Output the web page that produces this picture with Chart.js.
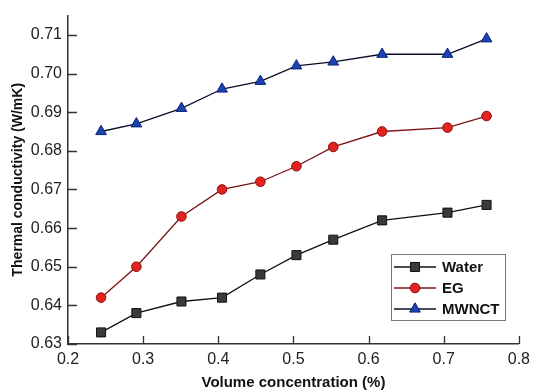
<!DOCTYPE html>
<html>
<head>
<meta charset="utf-8">
<script src="https://cdn.jsdelivr.net/npm/chart.js@4"></script>
<style>
  html, body { margin: 0; padding: 0; background: #fff; }
  #wrap { width: 536px; height: 392px; }
</style>
</head>
<body>
<div id="wrap"><canvas id="chart" width="536" height="392"></canvas></div>
<script>
// 体積濃度 (%)
const concentration = [0.244, 0.291, 0.351, 0.405, 0.456, 0.504, 0.553, 0.618, 0.705, 0.757];
// 熱伝導率 (W/mK)
const water = [0.633, 0.638, 0.641, 0.642, 0.648, 0.653, 0.657, 0.662, 0.664, 0.666];
const eg = [0.642, 0.650, 0.663, 0.670, 0.672, 0.676, 0.681, 0.685, 0.686, 0.689];
const mwnct = [0.685, 0.687, 0.691, 0.696, 0.698, 0.702, 0.703, 0.705, 0.705, 0.709];

const xTicks = [0.2, 0.3, 0.4, 0.5, 0.6, 0.7, 0.8];
const yTicks = [0.63, 0.64, 0.65, 0.66, 0.67, 0.68, 0.69, 0.70, 0.71];

const FONT = 'Arial, "Liberation Sans", sans-serif';
const AXIS_COLOR = '#333';

function toPoints(ys) {
  return concentration.map((x, i) => ({ x, y: ys[i] }));
}

const series = [
  { label: 'Water', data: water, line: '#111', fill: '#3a3a3a', border: '#111', style: 'rect', radius: 6.4 },
  { label: 'EG', data: eg, line: '#7a1414', fill: '#e3231f', border: '#8e0d0d', style: 'circle', radius: 4.8 },
  { label: 'MWNCT', data: mwnct, line: '#0c0c2a', fill: '#1c44b0', border: '#0b2277', style: 'triangle', radius: 6.2 }
];

// 内向きの目盛り線
const innerTicks = {
  id: 'innerTicks',
  afterDraw(chart) {
    const { ctx, chartArea, scales } = chart;
    ctx.save();
    ctx.strokeStyle = AXIS_COLOR;
    ctx.lineWidth = 1.3;
    ctx.beginPath();
    xTicks.forEach(v => {
      const px = Math.round(scales.x.getPixelForValue(v)) + 0.5;
      ctx.moveTo(px, chartArea.bottom);
      ctx.lineTo(px, chartArea.bottom - 8);
    });
    yTicks.forEach(v => {
      const py = Math.round(scales.y.getPixelForValue(v)) + 0.5;
      ctx.moveTo(chartArea.left, py);
      ctx.lineTo(chartArea.left + 9, py);
    });
    ctx.stroke();
    ctx.restore();
  }
};

// グラフ内の凡例
const boxLegend = {
  id: 'boxLegend',
  afterDatasetsDraw(chart) {
    const { ctx } = chart;
    const left = 391, top = 254, width = 114, height = 66;
    ctx.save();
    ctx.fillStyle = '#fff';
    ctx.fillRect(left, top, width, height);
    ctx.strokeStyle = '#777';
    ctx.lineWidth = 1;
    ctx.strokeRect(left + 0.5, top + 0.5, width, height);
    series.forEach((s, i) => {
      const y = top + 13 + i * 21;
      ctx.strokeStyle = s.line;
      ctx.lineWidth = 1.4;
      ctx.beginPath();
      ctx.moveTo(left + 3, y);
      ctx.lineTo(left + 45, y);
      ctx.stroke();
      ctx.fillStyle = s.fill;
      ctx.strokeStyle = s.border;
      ctx.lineWidth = 1;
      Chart.helpers.drawPoint(ctx, { pointStyle: s.style, radius: s.radius, rotation: 0, borderWidth: 1 }, left + 24, y);
      ctx.fillStyle = '#111';
      ctx.font = 'bold 15px ' + FONT;
      ctx.textBaseline = 'middle';
      ctx.fillText(s.label, left + 51, y + 1);
    });
    ctx.restore();
  }
};

const datasets = series.map(s => ({
  label: s.label,
  data: toPoints(s.data),
  borderColor: s.line,
  borderWidth: 1.3,
  backgroundColor: s.fill,
  pointStyle: s.style,
  pointRadius: s.radius,
  pointHoverRadius: s.radius,
  pointBackgroundColor: s.fill,
  pointBorderColor: s.border,
  pointBorderWidth: 1,
  tension: 0,
  fill: false
}));

new Chart(document.getElementById('chart'), {
  type: 'line',
  data: { datasets },
  options: {
    responsive: false,
    animation: false,
    layout: { padding: { top: 11, right: 11, left: 0, bottom: 0 } },
    plugins: {
      legend: { display: false },
      tooltip: { enabled: false }
    },
    scales: {
      x: {
        type: 'linear',
        min: 0.2,
        max: 0.8,
        afterFit(scale) { scale.height = 48; },
        afterBuildTicks(scale) { scale.ticks = xTicks.map(v => ({ value: v })); },
        grid: { display: false, drawTicks: false },
        border: { display: true, color: AXIS_COLOR, width: 1.5 },
        ticks: {
          padding: 6,
          color: '#222',
          font: { family: FONT, size: 16 },
          callback: v => v.toFixed(1)
        },
        title: {
          display: true,
          text: 'Volume concentration (%)',
          color: '#111',
          font: { family: FONT, size: 15, weight: 'bold' },
          padding: { top: 5, bottom: 0 }
        }
      },
      y: {
        type: 'linear',
        min: 0.63,
        max: 0.715,
        afterFit(scale) { scale.width = 68; },
        afterBuildTicks(scale) { scale.ticks = yTicks.map(v => ({ value: v })); },
        grid: { display: false, drawTicks: false },
        border: { display: true, color: AXIS_COLOR, width: 1.5 },
        ticks: {
          padding: 6,
          color: '#222',
          font: { family: FONT, size: 16 },
          callback: v => v.toFixed(2)
        },
        title: {
          display: true,
          text: 'Thermal conductivity (W/mK)',
          color: '#111',
          font: { family: FONT, size: 14, weight: 'bold' },
          padding: { top: 10, bottom: 0 }
        }
      }
    }
  },
  plugins: [innerTicks, boxLegend]
});
</script>
</body>
</html>
